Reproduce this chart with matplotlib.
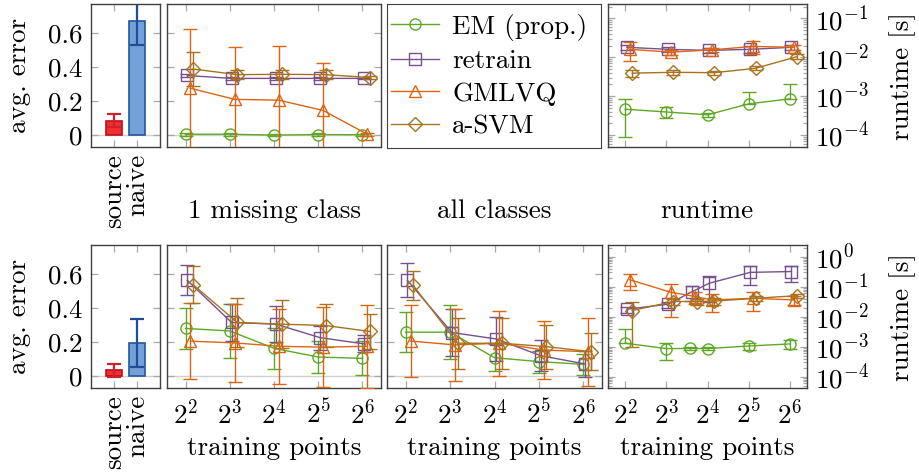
import numpy as np
import matplotlib
matplotlib.use("Agg")
import matplotlib.pyplot as plt
from matplotlib.lines import Line2D
from matplotlib.ticker import FuncFormatter, FixedLocator, LogLocator, NullFormatter

plt.rcParams['font.family'] = 'cmr10'
plt.rcParams['mathtext.fontset'] = 'cm'
plt.rcParams['axes.unicode_minus'] = False
plt.rcParams['axes.formatter.use_mathtext'] = True
plt.rcParams['font.size'] = 19.5

# ---------------- data ----------------
methods = ["EM (prop.)", "retrain", "GMLVQ", "a-SVM"]
bar_labels = ["source", "naive"]

x_points = [4, 8, 16, 32, 64]
x_runtime_bottom = [4, 8, 12, 16, 32, 64]

# top row: baselines
bar_top = [0.085, 0.67]
bar_top_err = [0.04, 0.14]
# bottom row: baselines
bar_bot = [0.033, 0.195]
bar_bot_err = [0.038, 0.143]

# top row, 1 missing class
em_1 = [0.005, 0.005, 0.0, 0.003, 0.002]
em_1_err = [0.01, 0.01, 0.005, 0.01, 0.005]
rt_1 = [0.35, 0.333, 0.333, 0.333, 0.333]
rt_1_err = [0.01, 0.008, 0.008, 0.008, 0.005]
gm_1 = [0.275, 0.21, 0.205, 0.145, 0.005]
gm_1_err = [0.35, 0.31, 0.32, 0.28, 0.01]
sv_1 = [0.388, 0.355, 0.357, 0.355, 0.338]
sv_1_err = [0.10, 0.027, 0.027, 0.027, 0.008]

# top row, runtime
em_t = [0.00046, 0.00039, 0.00033, 0.00063, 0.00085]
em_t_err = [0.00037, 0.00012, 0.00004, 0.00065, 0.0012]
rt_t = [0.018, 0.016, 0.015, 0.016, 0.018]
rt_t_err = [0.003, 0.002, 0.002, 0.003, 0.003]
gm_t = [0.016, 0.0135, 0.0155, 0.019, 0.018]
gm_t_err = [0.008, 0.002, 0.002, 0.007, 0.003]
sv_t = [0.0039, 0.0041, 0.004, 0.0052, 0.0103]
sv_t_err = [0.0008, 0.0006, 0.0005, 0.0006, 0.0015]

# bottom row, 1 missing class
em_2 = [0.28, 0.265, 0.163, 0.112, 0.104]
em_2_err = [0.122, 0.16, 0.12, 0.095, 0.1]
rt_2 = [0.562, 0.315, 0.305, 0.226, 0.189]
rt_2_err = [0.088, 0.11, 0.105, 0.07, 0.05]
gm_2 = [0.205, 0.195, 0.175, 0.17, 0.175]
gm_2_err = [0.225, 0.23, 0.22, 0.235, 0.245]
sv_2 = [0.537, 0.315, 0.305, 0.297, 0.262]
sv_2_err = [0.11, 0.145, 0.14, 0.125, 0.10]

# bottom row, all classes
em_3 = [0.258, 0.258, 0.108, 0.085, 0.069]
em_3_err = [0.118, 0.16, 0.08, 0.065, 0.06]
rt_3 = [0.562, 0.256, 0.218, 0.12, 0.071]
rt_3_err = [0.1, 0.14, 0.13, 0.09, 0.075]
gm_3 = [0.206, 0.183, 0.193, 0.153, 0.143]
gm_3_err = [0.21, 0.21, 0.19, 0.17, 0.2]
sv_3 = [0.533, 0.193, 0.193, 0.173, 0.143]
sv_3_err = [0.087, 0.15, 0.15, 0.13, 0.11]

# bottom row, runtime
em_b = [0.0013, 0.00086, 0.00087, 0.00086, 0.00105, 0.00123]
em_b_err = [0.0026, 0.0005, 0.0001, 0.0001, 0.0003, 0.0004]
rt_b = [0.0177, 0.026, 0.068, 0.13, 0.30, 0.32]
rt_b_err = [0.004, 0.006, 0.035, 0.10, 0.19, 0.18]
gm_b = [0.17, 0.065, 0.047, 0.036, 0.041, 0.036]
gm_b_err = [0.09, 0.055, 0.02, 0.022, 0.026, 0.012]
sv_b = [0.016, 0.032, 0.032, 0.033, 0.041, 0.050]
sv_b_err = [0.015, 0.008, 0.008, 0.008, 0.008, 0.008]

# ---------------- style ----------------
colors = ["#5fa826", "#76508f", "#dc6414", "#a8721f"]
markers = ["o", "s", "^", "D"]
msizes = [8, 8, 8.5, 7.5]
shifts = [0.0, 0.04, 0.11, 0.17]   # small horizontal offsets (log2 units)
tick_col = "#a8a8a8"
spine_col = "#404040"

W, H = 919, 473
fig = plt.figure(figsize=(W / 100, H / 100), dpi=100)


def add_ax(x0, y0, x1, y1):
    return fig.add_axes([x0 / W, 1 - y1 / H, (x1 - x0) / W, (y1 - y0) / H])


def style(ax):
    for s in ax.spines.values():
        s.set_color(spine_col)
        s.set_linewidth(1.0)
    ax.tick_params(which='both', direction='in', top=True, right=True,
                   color=tick_col, width=0.9)
    ax.tick_params(which='major', length=5)
    ax.tick_params(which='minor', length=3)


def err_axis(ax):
    ax.set_ylim(-0.07, 0.77)
    ax.yaxis.set_major_locator(FixedLocator([0, 0.2, 0.4, 0.6]))
    ax.yaxis.set_major_formatter(FuncFormatter(lambda v, p: f"{v:g}"))
    ax.axhline(0, color="#d0d0d0", lw=1.0, zorder=0)


def bars(ax, vals, errs):
    style(ax)
    err_axis(ax)
    ax.bar([0], [vals[0]], yerr=[errs[0]], width=0.7, color="#f03030",
           edgecolor="#c00d1e", linewidth=1.2, ecolor="#d0202e",
           error_kw=dict(capsize=5, elinewidth=1.6, capthick=1.6))
    ax.bar([1], [vals[1]], yerr=[errs[1]], width=0.7, color="#74a2d8",
           edgecolor="#24559c", linewidth=1.2, ecolor="#1f4e96",
           error_kw=dict(capsize=5, elinewidth=1.6, capthick=1.6))
    ax.set_xlim(-1, 2)
    ax.set_xticks([0, 1])
    ax.set_xticklabels(bar_labels, rotation=90, va='top')
    ax.tick_params(axis='x', pad=5)
    ax.tick_params(axis='y', pad=6)


def lines(ax, x, series, log=False):
    style(ax)
    for i, (v, e) in enumerate(series):
        v = np.asarray(v, float)
        e = np.asarray(e, float)
        xs = np.asarray(x, float) * 2 ** shifts[i]
        lo = np.where(v - e > 0, e, 0.0) if log else e
        ax.errorbar(xs, v, yerr=[lo, e], color=colors[i], lw=1.0,
                    marker=markers[i], ms=msizes[i], mfc='none', mew=1.0,
                    ecolor=colors[i], elinewidth=1.0, capsize=5, capthick=1.0,
                    zorder=3 + i)
    ax.set_xscale('log', base=2)
    ax.set_xlim(2 ** 1.58, 2 ** 6.42)
    ax.xaxis.set_major_locator(FixedLocator(x_points))
    ax.xaxis.set_major_formatter(FuncFormatter(lambda v, p: r"$2^{%d}$" % round(np.log2(v))))
    ax.xaxis.set_minor_locator(FixedLocator([]))
    ax.tick_params(axis='x', pad=8)


def runtime_axis(ax, lo, hi):
    ax.set_yscale('log')
    ax.set_ylim(10 ** lo, 10 ** hi)
    ax.yaxis.set_major_locator(LogLocator(base=10, numticks=10))
    ax.yaxis.set_minor_locator(LogLocator(base=10, subs=np.arange(2, 10), numticks=10))
    ax.yaxis.set_minor_formatter(NullFormatter())
    ax.tick_params(axis='y', labelleft=False, labelright=True, pad=6)


# ---------------- top row ----------------
ax = add_ax(91, 4, 160, 147)
bars(ax, bar_top, bar_top_err)

ax = add_ax(167, 4, 381, 147)
err_axis(ax)
lines(ax, x_points, [(em_1, em_1_err), (rt_1, rt_1_err), (gm_1, gm_1_err), (sv_1, sv_1_err)])
ax.set_yticklabels([])
ax.set_xticklabels([])

# legend box
ax = add_ax(387, 4, 601, 148)
for s in ax.spines.values():
    s.set_color(spine_col)
ax.set_xticks([])
ax.set_yticks([])
handles = [Line2D([], [], color=colors[i], marker=markers[i], ms=msizes[i],
                  mfc='none', mew=1.0, lw=1.0) for i in range(4)]
ax.legend(handles, methods, loc='center left', bbox_to_anchor=(0.02, 0.5),
          frameon=False, handlelength=1.75, labelspacing=0.32,
          handletextpad=0.5, borderaxespad=0, borderpad=0)

ax = add_ax(608, 4, 807, 147)
lines(ax, x_points, [(em_t, em_t_err), (rt_t, rt_t_err), (gm_t, gm_t_err), (sv_t, sv_t_err)], log=True)
runtime_axis(ax, -4.31, -0.63)
ax.set_xticklabels([])

# ---------------- bottom row ----------------
ax = add_ax(91, 245, 160, 388)
bars(ax, bar_bot, bar_bot_err)

ax = add_ax(167, 245, 381, 388)
err_axis(ax)
lines(ax, x_points, [(em_2, em_2_err), (rt_2, rt_2_err), (gm_2, gm_2_err), (sv_2, sv_2_err)])
ax.set_yticklabels([])

ax = add_ax(387, 245, 602, 388)
err_axis(ax)
lines(ax, x_points, [(em_3, em_3_err), (rt_3, rt_3_err), (gm_3, gm_3_err), (sv_3, sv_3_err)])
ax.set_yticklabels([])

ax = add_ax(608, 245, 807, 388)
lines(ax, x_runtime_bottom, [(em_b, em_b_err), (rt_b, rt_b_err), (gm_b, gm_b_err), (sv_b, sv_b_err)], log=True)
runtime_axis(ax, -4.38, 0.39)

# ---------------- labels ----------------
for yc in (75.5, 316.5):
    fig.text(19 / W, 1 - yc / H, "avg. error", rotation=90, ha='center', va='center')
    fig.text(903 / W, 1 - yc / H, "runtime [s]", rotation=90, ha='center', va='center')

for xc, t in ((274, "1 missing class"), (494, "all classes"), (707, "runtime")):
    fig.text(xc / W, 1 - 218 / H, t, ha='center', va='baseline')
for xc in (274, 494, 707):
    fig.text(xc / W, 1 - 455 / H, "training points", ha='center', va='baseline')

fig.savefig("out.png", dpi=100)
